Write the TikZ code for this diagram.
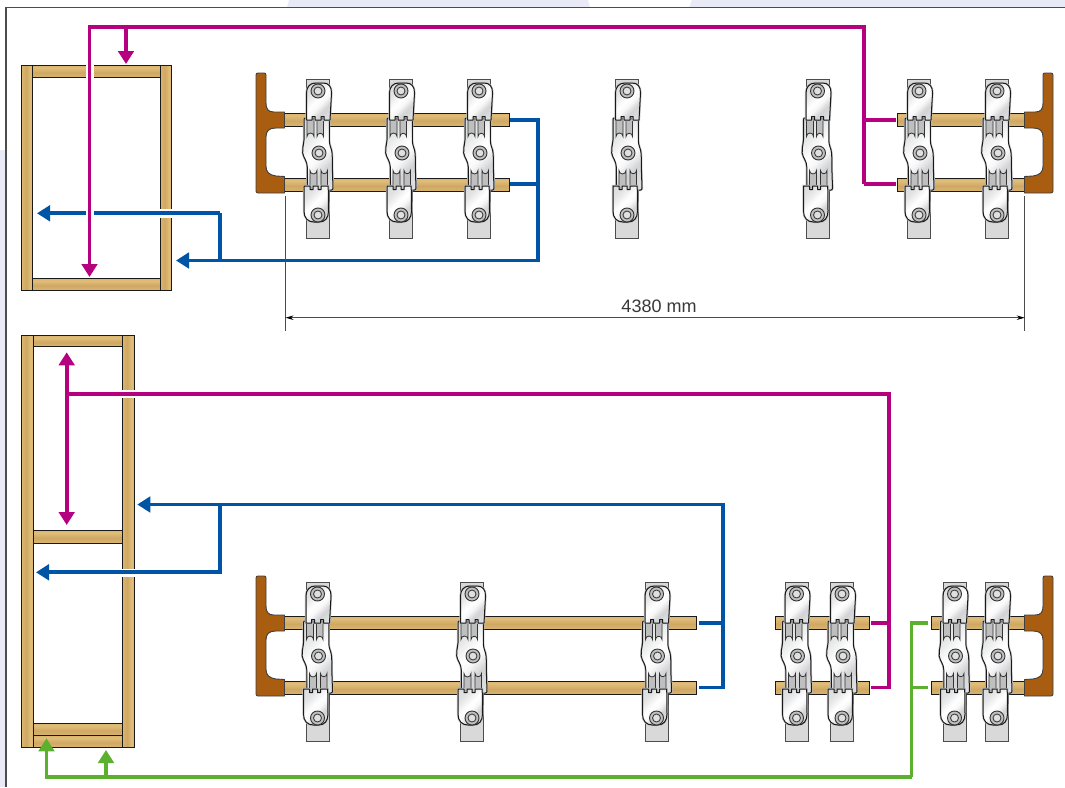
\documentclass[tikz,border=0pt]{standalone}
\usepackage{fontspec}
\setmainfont{Liberation Sans}
\usetikzlibrary{arrows.meta}
\definecolor{mag}{HTML}{B5007F}
\definecolor{blu}{HTML}{0054A6}
\definecolor{grn}{HTML}{5BB02E}
\definecolor{brownT}{HTML}{A85D10}
\definecolor{lav}{HTML}{E8EBF5}
\definecolor{wa}{HTML}{C6A05A}
\definecolor{wb}{HTML}{DBB670}
\definecolor{wc}{HTML}{CFA863}
\definecolor{wd}{HTML}{E0BD79}
\definecolor{we}{HTML}{D4AE67}
\definecolor{wf}{HTML}{C39C56}
\definecolor{ma}{HTML}{D0D1D3}
\definecolor{mb}{HTML}{E2E3E4}
\definecolor{mc}{HTML}{FFFFFF}
\definecolor{md}{HTML}{F8F8F9}
\definecolor{me}{HTML}{D2D3D5}
\definecolor{mf}{HTML}{F0F0F1}
\pgfdeclareverticalshading{woodH}{100bp}{color(0bp)=(wa);color(25bp)=(wb);color(45bp)=(wc);color(65bp)=(wd);color(85bp)=(we);color(100bp)=(wf)}
\pgfdeclarehorizontalshading{woodV}{100bp}{color(0bp)=(wa);color(25bp)=(wb);color(45bp)=(wc);color(65bp)=(wd);color(85bp)=(we);color(100bp)=(wf)}
\pgfdeclarehorizontalshading{metal}{100bp}{color(0bp)=(ma);color(30bp)=(mb);color(47bp)=(mc);color(55bp)=(md);color(66bp)=(me);color(100bp)=(mf)}
\tikzset{
  wire/.style={line width=3.9pt,line join=miter},
  tip/.style={-{Triangle[width=15.5pt,length=13pt]}},
  tiptwo/.style={{Triangle[width=15.5pt,length=13pt]}-{Triangle[width=15.5pt,length=13pt]}},
  woodh/.style={shading=woodH,draw=black!90,line width=1pt},
  woodv/.style={shading=woodV,draw=black!90,line width=1pt},
  plate/.style={shading=metal,shading angle=-45,draw=black!90,line width=1pt,line join=round,
    preaction={draw=black!25,line width=2.2pt}},
  slotfill/.style={fill=black!25,draw=black!80,line width=.8pt},
  backing/.style={fill=black!15,draw=black!70,line width=.9pt},
  dimline/.style={draw=black!70,line width=.8pt},
  bracket/.style={fill=brownT,draw=black!75,line width=.9pt,line join=round},
}
% backing strip
\newcommand{\clampback}[2]{\path[backing] (#1-11.5,#2-74) rectangle (#1+11.5,#2+85.5);}
% a bolt
\newcommand{\boltat}[2]{%
  \draw[black!80,line width=.9pt,fill=black!25] (#1,#2) circle (7pt);
  \draw[black!75,line width=.9pt,fill=black!12] (#1,#2) circle (4pt);}
% front plates
\newcommand{\clampfront}[2]{%
 \begin{scope}[shift={(#1,#2)}]
  % middle plate
  \path[plate] (-12.5,-35) .. controls (-13.5,-35) and (-14,-34.5) .. (-14,-33) -- (-14,-13)
     .. controls (-14.5,-7) and (-16,-4) .. (-15.3,0) .. controls (-14.5,5) and (-10.7,8) .. (-10.7,14) -- (-10.7,36) -- (-9.5,37) -- (13.5,37)
     .. controls (14.5,37) and (15,36) .. (15,35) -- (14.3,14)
     .. controls (14.2,7) and (14.6,1) .. (13.5,-3) .. controls (12.8,-6) and (11.3,-8) .. (11.3,-13)
     -- (11.3,-33) .. controls (11.3,-34.5) and (10.5,-35) .. (9.5,-35) -- cycle;
  \path[slotfill] (-11,-34) -- (-4,-34) -- (-4,-16.5) arc (0:-180:3.5) -- cycle;
  \path[slotfill] (-1,-34) -- (5.5,-34) -- (5.5,-16.5) arc (0:-180:3.25) -- cycle;
  \path[slotfill] (-8,35) -- (-8,17.5) arc (180:0:3.5) -- (-1,35) -- cycle;
  \path[slotfill] (3,35) -- (3,17.5) arc (180:0:3.25) -- (9.5,35) -- cycle;
  % top plate
  \path[plate] (-11.5,-33) -- (-11.5,-60)
     .. controls (-11.5,-66) and (-8,-70) .. (-2,-70) -- (5,-70)
     .. controls (11,-70) and (13.5,-66) .. (13.5,-60) -- (12,-33) -- (6,-33) -- (6,-36.5) -- (3,-36.5) -- (3,-33) -- (-3,-33) -- (-3,-36.5)
     -- (-6,-36.5) -- (-6,-33) -- cycle;
  % bottom plate
  \path[plate] (-14,33) -- (-8,33) -- (-8,36.5) -- (-5,36.5) -- (-5,33) -- (0,33) -- (0,36.5) -- (3,36.5) -- (3,33) -- (10.2,33)
     -- (10.5,58) .. controls (10.5,65) and (7,69) .. (1,69) -- (-4,69)
     .. controls (-10,69) and (-14,65) .. (-14,58) -- cycle;
  \boltat{0}{-62}
  \boltat{1}{0}
  \boltat{0}{62}
 \end{scope}}
% two rails, relative to a clamp centre line
\newcommand{\rails}[3]{%
  \path[woodh] (#1,#3-40) rectangle (#2,#3-27);
  \path[woodh] (#1,#3+25) rectangle (#2,#3+38.5);}
% T-shaped end piece
\newcommand{\tpiece}[1]{%
  \path[bracket] (256,#1-78) .. controls (256,#1-79.5) and (257,#1-80) .. (258,#1-80) -- (264,#1-80)
   .. controls (265.2,#1-80) and (266,#1-79.5) .. (266,#1-78) -- (266,#1-50)
   .. controls (266,#1-44) and (268,#1-41) .. (274,#1-41) -- (284.5,#1-41) -- (284.5,#1-25) -- (276,#1-25)
   .. controls (269,#1-25) and (266,#1-22) .. (266,#1-16) -- (266,#1+13)
   .. controls (266,#1+19) and (269,#1+22) .. (276,#1+23) -- (284.5,#1+23.5) -- (284.5,#1+40) -- (258,#1+40)
   .. controls (257,#1+40) and (256,#1+39) .. (256,#1+38) -- cycle;}
\begin{document}
\begin{tikzpicture}[x=1pt,y=-1pt]
\useasboundingbox (0,0) rectangle (1065,787);
\fill[white] (0,0) rectangle (1065,787);
\fill[lav] (0,150) rectangle (6,787);
\fill[lav] (289,0) -- (588,0) -- (590,7.5) -- (287,7.5) -- cycle;
\fill[lav] (692,0) -- (1065,0) -- (1065,7.5) -- (689,7.5) -- cycle;
\draw[black!70,line width=1.1pt] (6,787) -- (6,7.5) -- (1065,7.5);

% ---------- top frame
\path[woodv] (21.7,65.5) rectangle (32.8,290);
\path[woodv] (160,65.5) rectangle (171.5,290);
\path[woodh] (32.8,65.5) rectangle (160,77.5);
\path[woodh] (32.8,278.5) rectangle (160,290);
% ---------- bottom frame
\path[woodv] (21.7,335.7) rectangle (33,747.5);
\path[woodv] (122.5,335.7) rectangle (134,747.5);
\path[woodh] (33,335.7) rectangle (122.5,346.7);
\path[woodh] (33,530) rectangle (122.5,543.3);
\path[woodh] (33,723.3) rectangle (122.5,735.7);
\path[woodh] (33,735.7) rectangle (122.5,747.5);
% gaps where connectors pass through frames
\fill[white] (85.7,64) rectangle (94,78.6);
\fill[white] (159,209) rectangle (172.6,217.5);
\fill[white] (121.5,389.5) rectangle (135,397.5);
\fill[white] (121.5,568.5) rectangle (135,576.7);

% ---------- top assembly
\foreach \c in {318,401,479,627,817.5,919,997} {\clampback{\c}{153}}
\rails{284.5}{509.5}{153}
\rails{897}{1025}{153}
\tpiece{153}
\begin{scope}[shift={(1309,0)},xscale=-1]\tpiece{153}\end{scope}
\foreach \c in {318,401,479,627,817.5,919,997} {\clampfront{\c}{153}}

% ---------- bottom assembly
\foreach \c in {317.5,472,656.5,796.5,842,954.5,997} {\clampback{\c}{656}}
\rails{284.5}{696}{656}
\rails{775}{869}{656}
\rails{931}{1025}{656}
\tpiece{656}
\begin{scope}[shift={(1309,0)},xscale=-1]\tpiece{656}\end{scope}
\foreach \c in {317.5,472,656.5,796.5,842,954.5,997} {\clampfront{\c}{656}}

% ---------- named connector points
\coordinate (mA) at (896,119.8);
\coordinate (mB) at (896,184);
\coordinate (mAj) at (864,119.8);
\coordinate (mBj) at (864,184);
\coordinate (mTopR) at (864,27.3);
\coordinate (mTopL) at (89.5,27.3);
\coordinate (mDown) at (89.5,277);
\coordinate (mTopJ) at (126,27.3);
\coordinate (mTopT) at (126,64);

\coordinate (bA) at (510,120);
\coordinate (bB) at (510,184);
\coordinate (bAj) at (538,120);
\coordinate (bBj) at (538,184);
\coordinate (bCorner) at (538,260.5);
\coordinate (bTip) at (176,260.5);
\coordinate (bJ) at (220,260.5);
\coordinate (bUp) at (220,213.3);
\coordinate (bTip2) at (37,213.3);

\coordinate (dL) at (285.5,317.7);
\coordinate (dR) at (1024.7,317.7);
\coordinate (eL1) at (285.5,196);
\coordinate (eL2) at (285.5,331);
\coordinate (eR1) at (1024.7,196);
\coordinate (eR2) at (1024.7,331);

\coordinate (pA) at (871,623.3);
\coordinate (pB) at (871,687.5);
\coordinate (pAj) at (889,623.3);
\coordinate (pBj) at (889,687.5);
\coordinate (pTop) at (889,393.7);
\coordinate (pJ) at (66.7,393.7);
\coordinate (pU) at (66.7,352.3);
\coordinate (pD) at (66.7,525);

\coordinate (cA) at (699,623.3);
\coordinate (cB) at (699,687.5);
\coordinate (cAj) at (722.7,623.3);
\coordinate (cBj) at (722.7,687.5);
\coordinate (cTop) at (722.7,504.5);
\coordinate (cTip) at (137.3,504.5);
\coordinate (cJ) at (220,504.5);
\coordinate (cDown) at (220,572.3);
\coordinate (cTip2) at (36,572.3);

\coordinate (gA) at (927.7,623.3);
\coordinate (gB) at (927.7,687.5);
\coordinate (gAj) at (911.5,623.3);
\coordinate (gBj) at (911.5,687.5);
\coordinate (gLow) at (911.5,776.7);
\coordinate (gLeft) at (46.5,776.7);
\coordinate (gTip) at (46.5,738.3);
\coordinate (gJ) at (106,776.7);
\coordinate (gTip2) at (106,750);

% ---------- connectors
\draw[wire,blu,tip] (bUp) -- (bTip2);
\fill[white] (85.7,210) rectangle (94,216.6);
\draw[wire,blu,tip] (bA) -- (bAj) -- (bCorner) -- (bTip);
\draw[wire,blu] (bB) -- (bBj);
\draw[wire,blu] (bJ) -- (bUp);

\draw[wire,mag,tip] (mBj) -- (mTopR) -- (mTopL) -- (mDown);
\draw[wire,mag] (mB) -- (mBj);
\draw[wire,mag] (mA) -- (mAj);
\draw[wire,mag,tip] (mTopJ) -- (mTopT);

\draw[wire,mag] (pA) -- (pAj);
\draw[wire,mag] (pB) -- (pBj) -- (pTop) -- (pJ);
\draw[wire,mag,tiptwo] (pU) -- (pD);

\draw[wire,blu] (cA) -- (cAj);
\draw[wire,blu,tip] (cB) -- (cBj) -- (cTop) -- (cTip);
\draw[wire,blu,tip] (cJ) -- (cDown) -- (cTip2);

\draw[wire,grn] (gA) -- (gAj) -- (gLow);
\draw[wire,grn] (gB) -- (gBj);
\draw[wire,grn,tip] (gLow) -- (gLeft) -- (gTip);
\draw[wire,grn,tip] (gJ) -- (gTip2);

% ---------- dimension
\draw[dimline] (eL1) -- (eL2);
\draw[dimline] (eR1) -- (eR2);
\draw[dimline,{Stealth[length=8pt,width=4.5pt,black]}-{Stealth[length=8pt,width=4.5pt,black]}] (dL) -- (dR);
\node[text=black!78,font=\fontsize{18}{20}\selectfont,inner sep=0pt] (dimtext) at (659,306.3) {4380 mm};
\end{tikzpicture}
\end{document}
